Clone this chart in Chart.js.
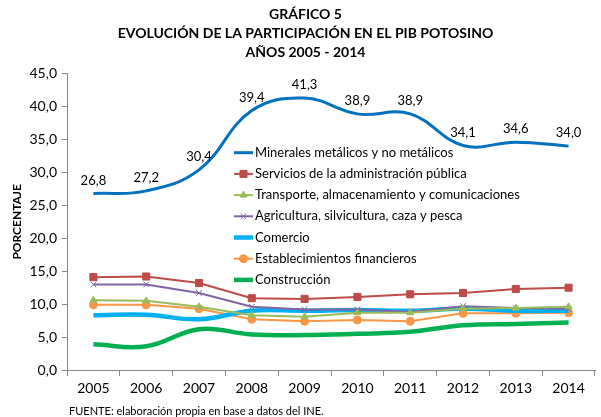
<!DOCTYPE html>
<html>
<head>
<meta charset="utf-8">
<script src="https://cdn.jsdelivr.net/npm/chart.js@4"></script>
<style>
  body { margin: 0; background: #fff; }
  canvas { display: block; }
</style>
</head>
<body>
<canvas id="pibChart" width="601" height="417"></canvas>
<script>
var years = ['2005','2006','2007','2008','2009','2010','2011','2012','2013','2014'];

var minerales = [26.8, 27.2, 30.4, 39.4, 41.3, 38.9, 38.9, 34.1, 34.6, 34.0];
var servicios = [14.1, 14.2, 13.2, 10.9, 10.8, 11.1, 11.5, 11.7, 12.3, 12.5];
var transporte = [10.6, 10.5, 9.6, 8.3, 8.1, 8.7, 8.7, 9.3, 9.4, 9.6];
var agricultura = [13.0, 13.0, 11.7, 9.6, 9.2, 9.2, 8.8, 9.7, 9.4, 9.3];
var comercio = [8.3, 8.4, 7.7, 9.0, 9.0, 9.1, 9.0, 9.3, 9.0, 9.0];
var financieros = [9.9, 9.9, 9.3, 7.7, 7.4, 7.6, 7.4, 8.6, 8.6, 8.7];
var construccion = [3.9, 3.6, 6.2, 5.4, 5.3, 5.5, 5.8, 6.8, 7.0, 7.2];

var FONT = 'Lato';

function coma(v) {
    return Number(v).toFixed(1).replace('.', ',');
}

// etiquetas de valor sobre la serie de minerales
var valueLabels = {
    id: 'valueLabels',
    afterDatasetsDraw: function (chart) {
        var ctx = chart.ctx;
        var meta = chart.getDatasetMeta(0);
        ctx.save();
        ctx.font = '13px ' + FONT;
        ctx.fillStyle = '#000';
        ctx.textAlign = 'center';
        ctx.textBaseline = 'middle';
        meta.data.forEach(function (pt, i) {
            ctx.fillText(coma(minerales[i]), pt.x, pt.y - 13);
        });
        ctx.restore();
    }
};

// leyenda dentro del area del grafico
var innerLegend = {
    id: 'innerLegend',
    afterDraw: function (chart) {
        var ctx = chart.ctx;
        var area = chart.chartArea;
        var x0 = area.left + 167;
        var y0 = area.top + 79;
        ctx.save();
        chart.data.datasets.forEach(function (ds, i) {
            var y = y0 + i * 21.2;
            ctx.strokeStyle = ds.borderColor;
            ctx.lineWidth = ds.borderWidth;
            ctx.beginPath();
            ctx.moveTo(x0, y);
            ctx.lineTo(x0 + 19, y);
            ctx.stroke();
            if (ds.pointRadius > 0) {
                ctx.fillStyle = ds.pointBackgroundColor;
                ctx.strokeStyle = ds.pointBorderColor;
                ctx.lineWidth = 1;
                Chart.helpers.drawPoint(ctx, {
                    pointStyle: ds.pointStyle,
                    radius: ds.pointRadius,
                    borderWidth: 1
                }, x0 + 9.5, y);
            }
            ctx.fillStyle = '#000';
            ctx.font = '13px ' + FONT;
            ctx.textAlign = 'left';
            ctx.textBaseline = 'middle';
            ctx.fillText(ds.label, x0 + 21, y);
        });
        ctx.restore();
    }
};

// fuente al pie
var footer = {
    id: 'footer',
    afterDraw: function (chart) {
        var ctx = chart.ctx;
        ctx.save();
        ctx.font = '11px ' + FONT;
        ctx.fillStyle = '#000';
        ctx.textAlign = 'left';
        ctx.textBaseline = 'middle';
        ctx.fillText('FUENTE: elaboración propia en base a datos del INE.', chart.chartArea.left + 2, chart.height - 6);
        ctx.restore();
    }
};

var pibCanvas = document.getElementById('pibChart').getContext('2d');

function lineSet(label, data, color, width, style, radius, smooth) {
    return {
        label: label,
        data: data,
        borderColor: color,
        backgroundColor: color,
        pointBackgroundColor: color,
        pointBorderColor: color,
        borderWidth: width,
        pointStyle: style,
        pointRadius: radius,
        pointBorderWidth: 1,
        tension: smooth ? 0.4 : 0,
        fill: false
    };
}

var pibChart = new Chart(pibCanvas, {
    type: 'line',
    data: {
        labels: years,
        datasets: [
            lineSet('Minerales metálicos y no metálicos', minerales, '#0070C0', 3, 'circle', 0, true),
            lineSet('Servicios de la administración pública', servicios, '#BE4B48', 2, 'rect', 5, false),
            lineSet('Transporte, almacenamiento y comunicaciones', transporte, '#9BBB59', 2, 'triangle', 4, false),
            lineSet('Agricultura, silvicultura, caza y pesca', agricultura, '#8064A2', 2, 'crossRot', 4, false),
            lineSet('Comercio', comercio, '#00B0F0', 4.5, 'circle', 0, true),
            lineSet('Establecimientos financieros', financieros, '#F79646', 2, 'circle', 4, false),
            lineSet('Construcción', construccion, '#00B050', 4.5, 'circle', 0, true)
        ]
    },
    options: {
        responsive: false,
        animation: false,
        layout: {
            padding: { left: 10, right: 0, top: 0, bottom: 17 }
        },
        plugins: {
            legend: { display: false },
            tooltip: { enabled: false },
            title: {
                display: true,
                text: ['GRÁFICO 5', 'EVOLUCIÓN DE LA PARTICIPACIÓN EN EL PIB POTOSINO', 'AÑOS 2005 - 2014'],
                color: '#000',
                font: { family: FONT, size: 14, weight: 'bold', lineHeight: 1.35 },
                padding: { top: 5, bottom: 12 }
            }
        },
        scales: {
            x: {
                offset: true,
                afterFit: function (scale) { scale.height = 30; },
                grid: {
                    display: true,
                    drawOnChartArea: false,
                    offset: true,
                    tickLength: 6,
                    color: '#868686'
                },
                border: { color: '#868686' },
                ticks: {
                    color: '#000',
                    font: { family: FONT, size: 14 },
                    padding: 4,
                    maxRotation: 0
                }
            },
            y: {
                min: 0,
                max: 45,
                afterFit: function (scale) { scale.width = 57; },
                grid: {
                    display: true,
                    drawOnChartArea: false,
                    tickLength: 5,
                    color: '#868686'
                },
                border: { color: '#868686' },
                ticks: {
                    stepSize: 5,
                    color: '#000',
                    font: { family: FONT, size: 14 },
                    padding: 5,
                    callback: function (v) { return coma(v); }
                },
                title: {
                    display: true,
                    text: 'PORCENTAJE',
                    color: '#000',
                    font: { family: FONT, size: 12, weight: 'bold' },
                    padding: { top: 0, bottom: 0 }
                }
            }
        }
    },
    plugins: [valueLabels, innerLegend, footer]
});
</script>
</body>
</html>
